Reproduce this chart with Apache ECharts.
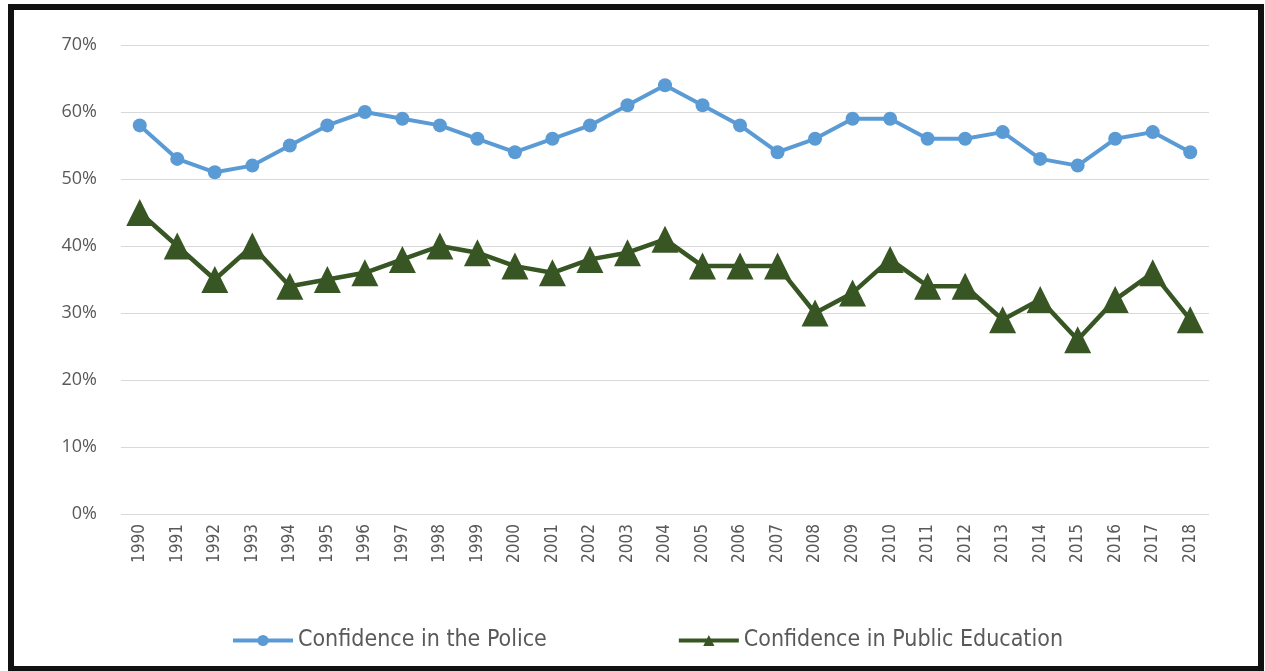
<!DOCTYPE html>
<html>
<head>
<meta charset="utf-8">
<script src="https://cdn.jsdelivr.net/npm/echarts@6/dist/echarts.min.js"></script>
<style>
  html, body { margin: 0; padding: 0; background: #fff; }
  #chart { width: 1265px; height: 671px; }
</style>
</head>
<body>
<div id="chart"></div>
<script>
// years on the x axis
const years = ['1990', '1991', '1992', '1993', '1994', '1995', '1996', '1997', '1998', '1999',
  '2000', '2001', '2002', '2003', '2004', '2005', '2006', '2007', '2008', '2009',
  '2010', '2011', '2012', '2013', '2014', '2015', '2016', '2017', '2018']
// percent values
const police = [58, 53, 51, 52, 55, 58, 60, 59, 58, 56, 54, 56, 58, 61, 64, 61, 58, 54, 56, 59,
  59, 56, 56, 57, 53, 52, 56, 57, 54]
const education = [45, 40, 35, 40, 34, 35, 36, 38, 40, 39, 37, 36, 38, 39, 41, 37, 37, 37, 30, 33,
  38, 34, 34, 29, 32, 26, 32, 36, 29]

const narrow = 'Liberation Sans Narrow, DejaVu Sans Condensed, sans-serif'

const chart = echarts.init(document.getElementById('chart'))
chart.setOption({
  animation: false,
  graphic: [
    {
      type: 'rect',
      shape: { x: 11, y: 7, width: 1250, height: 662 },
      style: { fill: 'none', stroke: '#111', lineWidth: 6 },
      silent: true
    }
  ],
  grid: { left: 121, right: 56, top: 45, bottom: 157 },
  legend: {
    top: 624,
    left: 226,
    itemWidth: 60,
    itemHeight: 14,
    itemGap: 130,
    lineStyle: { width: 4 },
    textStyle: { color: '#595959', fontSize: 23, fontFamily: narrow },
    data: ['Confidence in the Police', 'Confidence in Public Education']
  },
  xAxis: {
    type: 'category',
    data: years,
    boundaryGap: true,
    axisLine: { show: false },
    axisTick: { show: false },
    axisLabel: {
      rotate: 90,
      margin: 10,
      color: '#595959',
      fontSize: 17,
      fontFamily: narrow
    }
  },
  yAxis: {
    type: 'value',
    min: 0,
    max: 70,
    interval: 10,
    axisLine: { show: false },
    axisTick: { show: false },
    axisLabel: {
      formatter: '{value}%',
      margin: 24,
      color: '#595959',
      fontSize: 18,
      fontFamily: 'Open Sans, sans-serif'
    },
    splitLine: { lineStyle: { color: '#d9d9d9', width: 1 } }
  },
  series: [
    {
      name: 'Confidence in the Police',
      type: 'line',
      data: police,
      color: '#5b9bd5',
      symbol: 'circle',
      symbolSize: 14,
      lineStyle: { width: 4 }
    },
    {
      name: 'Confidence in Public Education',
      type: 'line',
      data: education,
      color: '#375623',
      symbol: 'triangle',
      symbolSize: 27,
      lineStyle: { width: 4.5 }
    }
  ]
})
</script>
</body>
</html>
